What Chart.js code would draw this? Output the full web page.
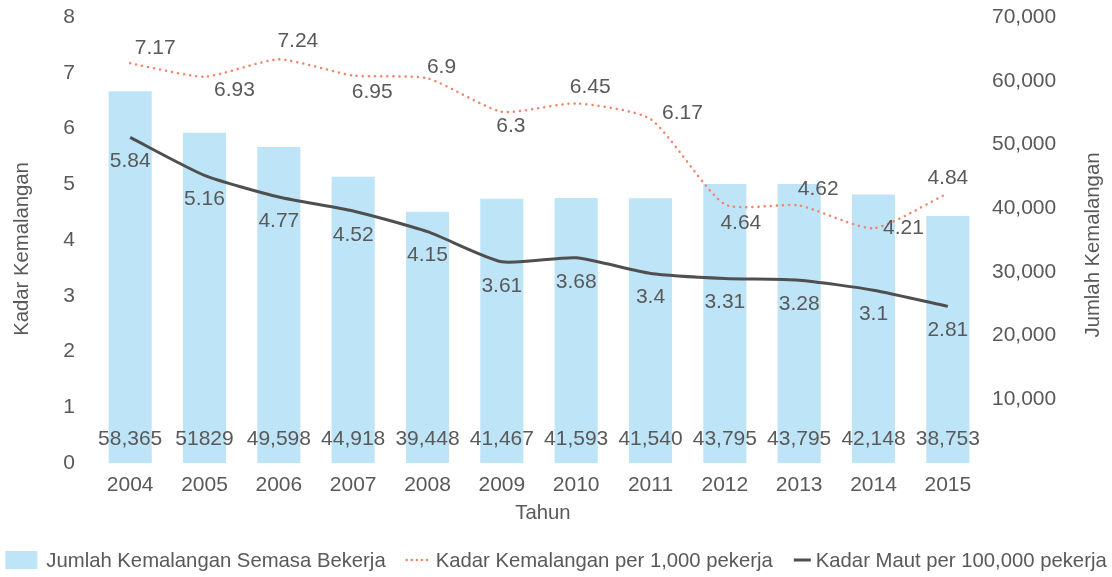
<!DOCTYPE html>
<html>
<head>
<meta charset="utf-8">
<script src="https://cdn.jsdelivr.net/npm/chart.js@4.4.1/dist/chart.umd.min.js"></script>
<style>
  html, body { margin: 0; padding: 0; background: #fff; }
  #wrap { width: 1112px; height: 577px; }
</style>
</head>
<body>
<div id="wrap"><canvas id="chart"></canvas></div>
<script>
const years = ['2004', '2005', '2006', '2007', '2008', '2009', '2010', '2011', '2012', '2013', '2014', '2015']
const jumlahKemalangan = [58365, 51829, 49598, 44918, 39448, 41467, 41593, 41540, 43795, 43795, 42148, 38753]
const jumlahLabels = ['58,365', '51829', '49,598', '44,918', '39,448', '41,467', '41,593', '41,540', '43,795', '43,795', '42,148', '38,753']
const kadarKemalangan = [7.17, 6.93, 7.24, 6.95, 6.9, 6.3, 6.45, 6.17, 4.64, 4.62, 4.21, 4.84]
const kadarMaut = [5.84, 5.16, 4.77, 4.52, 4.15, 3.61, 3.68, 3.4, 3.31, 3.28, 3.1, 2.81]

const leftMax = 8
const rightMax = 70000

// label nudges for the dotted series (dx, dy from the point), as placed in the original
const kadarNudge = [[25, -15], [30, 14], [19, -18], [19, 17], [14, -11], [9, 14], [14, -16], [32, -6], [16, 19], [19, -16], [30, 0], [0, -15]]

const GREY = '#595959'
const FONT = "'Liberation Sans', Arial, sans-serif"
const BAR_BLUE = '#BEE4F8'
const SALMON = '#F2846C'
const DARK = '#4F4F4F'

const overlay = {
  id: 'overlay',
  afterDatasetsDraw(chart) {
    const ctx = chart.ctx
    const area = chart.chartArea
    const base = chart.scales.yRight.getPixelForValue(0)
    ctx.save()
    ctx.fillStyle = GREY
    ctx.font = `21px ${FONT}`
    ctx.textAlign = 'center'
    ctx.textBaseline = 'middle'

    chart.getDatasetMeta(0).data.forEach((bar, i) => {
      ctx.fillText(jumlahLabels[i], bar.x, base - 24)
    })
    chart.getDatasetMeta(1).data.forEach((pt, i) => {
      const [dx, dy] = kadarNudge[i]
      ctx.fillText(String(kadarKemalangan[i]), pt.x + dx, pt.y + dy)
    })
    chart.getDatasetMeta(2).data.forEach((pt, i) => {
      ctx.fillText(String(kadarMaut[i]), pt.x, pt.y + 24)
    })

    // axis titles
    ctx.font = `20.3px ${FONT}`
    ctx.fillText('Tahun', (area.left + area.right) / 2 + 4, 513)
    const vtitle = (text, x, y) => {
      ctx.save()
      ctx.translate(x, y)
      ctx.rotate(-Math.PI / 2)
      ctx.fillText(text, 0, 0)
      ctx.restore()
    }
    vtitle('Kadar Kemalangan', 22, 249)
    vtitle('Jumlah Kemalangan', 1093, 245)

    // legend
    const sets = chart.data.datasets
    const items = [
      { text: sets[0].label, mark: 'box', w: 32, gap: 9 },
      { text: sets[1].label, mark: 'dots', w: 25, gap: 5 },
      { text: sets[2].label, mark: 'line', w: 18, gap: 5 },
    ]
    const between = 20
    let total = 0
    items.forEach((it, i) => {
      it.tw = ctx.measureText(it.text).width
      total += it.w + it.gap + it.tw + (i ? between : 0)
    })
    let x = chart.width / 2 - total / 2
    const ly = 560
    ctx.textAlign = 'left'
    items.forEach((it) => {
      if (it.mark === 'box') {
        ctx.fillStyle = BAR_BLUE
        ctx.fillRect(x, ly - 9, it.w, 18)
      } else {
        ctx.beginPath()
        ctx.strokeStyle = it.mark === 'dots' ? SALMON : DARK
        ctx.lineWidth = it.mark === 'dots' ? 2.5 : 3
        ctx.lineCap = it.mark === 'dots' ? 'round' : 'butt'
        ctx.setLineDash(it.mark === 'dots' ? [0.1, 5] : [])
        ctx.moveTo(x + 1, ly)
        ctx.lineTo(x + it.w, ly)
        ctx.stroke()
        ctx.setLineDash([])
      }
      ctx.fillStyle = GREY
      ctx.fillText(it.text, x + it.w + it.gap, ly + 1)
      x += it.w + it.gap + it.tw + between
    })
    ctx.restore()
  },
}

// fixed axis boxes so the plot area sits where the original has it
const fitY = width => s => {
  s.width = width
  s.paddingTop = 0
  s.paddingBottom = 0
}

new Chart(document.getElementById('chart'), {
  data: {
    labels: years,
    datasets: [
      {
        type: 'bar',
        label: 'Jumlah Kemalangan Semasa Bekerja',
        data: jumlahKemalangan,
        yAxisID: 'yRight',
        backgroundColor: BAR_BLUE,
        barPercentage: 0.58,
        categoryPercentage: 1,
        order: 3,
      },
      {
        type: 'line',
        label: 'Kadar Kemalangan per 1,000 pekerja',
        data: kadarKemalangan,
        yAxisID: 'yLeft',
        borderColor: SALMON,
        borderWidth: 2.5,
        borderDash: [0.1, 6],
        borderCapStyle: 'round',
        pointRadius: 0,
        tension: 0.2,
        order: 2,
      },
      {
        type: 'line',
        label: 'Kadar Maut per 100,000 pekerja',
        data: kadarMaut,
        yAxisID: 'yLeft',
        borderColor: DARK,
        borderWidth: 3,
        pointRadius: 0,
        tension: 0.2,
        order: 1,
      },
    ],
  },
  options: {
    responsive: true,
    maintainAspectRatio: false,
    animation: false,
    layout: { padding: { top: 17, left: 0, right: 0, bottom: 0 } },
    plugins: {
      legend: { display: false },
      tooltip: { enabled: false },
    },
    scales: {
      x: {
        grid: { display: false, drawTicks: false },
        border: { display: false },
        ticks: { color: GREY, font: { family: FONT, size: 21 }, padding: 10 },
        afterFit: s => { s.height = 114 },
      },
      yLeft: {
        position: 'left',
        min: 0,
        max: leftMax,
        grid: { display: false, drawTicks: false },
        border: { display: false },
        ticks: { stepSize: 1, color: GREY, font: { family: FONT, size: 21 }, padding: 18 },
        afterFit: fitY(93),
      },
      yRight: {
        position: 'right',
        min: 0,
        max: rightMax,
        grid: { display: false, drawTicks: false },
        border: { display: false },
        ticks: {
          stepSize: 10000,
          color: GREY,
          font: { family: FONT, size: 21 },
          padding: 7,
          callback: v => (v === 0 ? '' : v.toLocaleString('en-US')),
        },
        afterFit: fitY(127),
      },
    },
  },
  plugins: [overlay],
})
</script>
</body>
</html>
